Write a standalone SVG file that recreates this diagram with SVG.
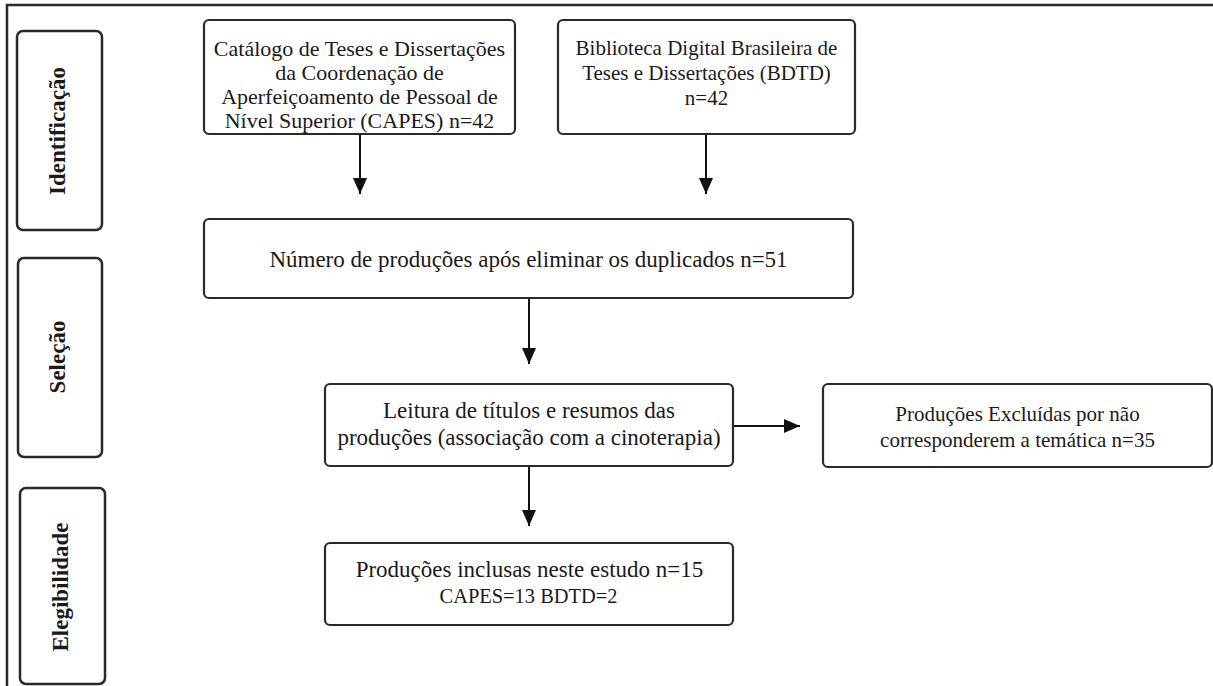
<svg xmlns="http://www.w3.org/2000/svg" width="1213" height="686" viewBox="0 0 1213 686">
<defs>
<style>
.frame{fill:none;stroke:#2a2a2a;stroke-width:2.5}
.lane{fill:#fff;stroke:#2a2a2a;stroke-width:2.5}
.box{fill:#fff;stroke:#2a2a2a;stroke-width:2.2}
.lab{font-family:"Liberation Serif",serif;font-weight:bold;font-size:23px;fill:#1a1a1a;text-anchor:middle}
.t1{font-family:"Liberation Serif",serif;font-size:22px;fill:#1a1a1a;text-anchor:middle}
.t1b{font-family:"Liberation Serif",serif;font-size:21px;fill:#1a1a1a;text-anchor:middle}
.t2{font-family:"Liberation Serif",serif;font-size:23px;fill:#1a1a1a;text-anchor:middle}
.t3{font-family:"Liberation Serif",serif;font-size:21px;fill:#1a1a1a;text-anchor:middle}
.con{stroke:#111;stroke-width:2;fill:none;marker-end:url(#ah)}
</style>
<marker id="ah" markerUnits="userSpaceOnUse" markerWidth="16" markerHeight="14" refX="16" refY="7" orient="auto">
<path d="M0,0 L16,7 L0,14 Z" fill="#111"/>
</marker>
</defs>
<rect width="1213" height="686" fill="#fff"/>
<path class="frame" d="M7,700 V5 H1220"/>

<g id="lane-identificacao">
<rect class="lane" x="17" y="31" width="85" height="199" rx="6"/>
<text class="lab" transform="translate(65,131) rotate(-90)">Identificação</text>
</g>
<g id="lane-selecao">
<rect class="lane" x="18" y="258" width="84" height="199" rx="6"/>
<text class="lab" transform="translate(65,357) rotate(-90)">Seleção</text>
</g>
<g id="lane-elegibilidade">
<rect class="lane" x="20" y="488" width="85" height="196" rx="6"/>
<text class="lab" transform="translate(68,587) rotate(-90)">Elegibilidade</text>
</g>

<g id="node-capes">
<rect class="box" x="204" y="20" width="311" height="114" rx="5"/>
<text class="t1" x="359.5" y="56">Catálogo de Teses e Dissertações</text>
<text class="t1" x="359.5" y="80">da Coordenação de</text>
<text class="t1" x="359.5" y="104">Aperfeiçoamento de Pessoal de</text>
<text class="t1" x="359.5" y="128">Nível Superior (CAPES) n=42</text>
</g>
<g id="node-bdtd">
<rect class="box" x="558" y="20" width="297" height="114" rx="5"/>
<text class="t1b" x="706.5" y="55">Biblioteca Digital Brasileira de</text>
<text class="t1b" x="706.5" y="80">Teses e Dissertações (BDTD)</text>
<text class="t1b" x="706.5" y="105">n=42</text>
</g>
<g id="node-duplicados">
<rect class="box" x="204" y="219" width="649" height="79" rx="5"/>
<text class="t2" x="528.5" y="267">Número de produções após eliminar os duplicados n=51</text>
</g>
<g id="node-leitura">
<rect class="box" x="325" y="384" width="408" height="82" rx="5"/>
<text class="t2" x="529" y="418">Leitura de títulos e resumos das</text>
<text class="t2" x="529" y="445">produções (associação com a cinoterapia)</text>
</g>
<g id="node-excluidas">
<rect class="box" x="823" y="384" width="389" height="83" rx="5"/>
<text class="t3" x="1017.5" y="421">Produções Excluídas por não</text>
<text class="t3" x="1017.5" y="447">corresponderem a temática n=35</text>
</g>
<g id="node-inclusas">
<rect class="box" x="325" y="543" width="408" height="82" rx="5"/>
<text class="t2" x="529.5" y="577">Produções inclusas neste estudo n=15</text>
<text class="t2" x="528.5" y="603" style="font-size:22px" textLength="178" lengthAdjust="spacingAndGlyphs">CAPES=13 BDTD=2</text>
</g>

<g id="connectors">
<line class="con" x1="360" y1="135" x2="360" y2="194"/>
<line class="con" x1="706" y1="135" x2="706" y2="194"/>
<line class="con" x1="529" y1="299" x2="529" y2="364"/>
<line class="con" x1="734" y1="426" x2="800" y2="426"/>
<line class="con" x1="529" y1="467" x2="529" y2="526"/>
</g>
</svg>
